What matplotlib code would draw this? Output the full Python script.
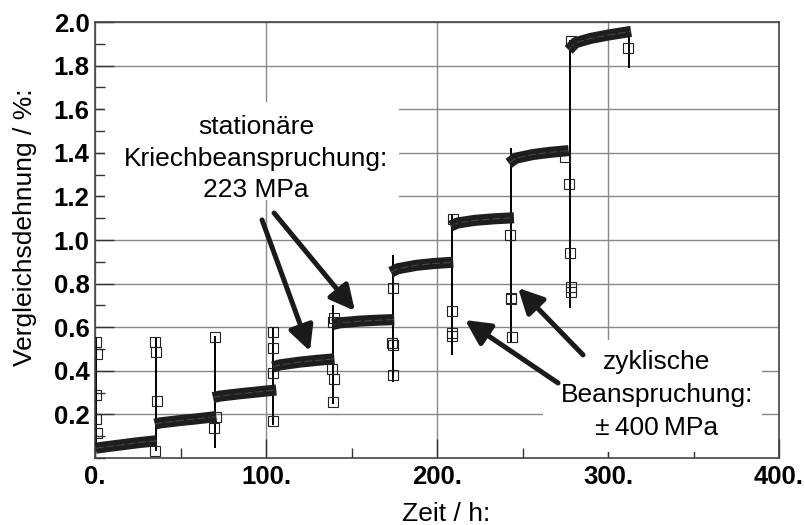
import numpy as np
import matplotlib.pyplot as plt
from matplotlib.patches import Rectangle
from matplotlib.ticker import FuncFormatter, MultipleLocator

plt.rcParams['font.family'] = ['Liberation Sans', 'DejaVu Sans']

# creep segments (stationaere Kriechbeanspruchung): Zeit / h, Dehnung / %
seg_t = [
    [0.5, 5, 15, 25, 36],
    [35, 38, 50, 60, 71],
    [69, 73, 85, 95, 106],
    [104, 108, 120, 130, 140],
    [139, 143, 155, 165, 175],
    [173, 177, 188, 198, 209.5],
    [208, 212, 222, 233, 245],
    [242, 246, 256, 266, 277],
    [277, 281, 290, 300, 313.5],
]
seg_s = [
    [0.045, 0.050, 0.060, 0.070, 0.079],
    [0.155, 0.161, 0.172, 0.180, 0.190],
    [0.277, 0.284, 0.295, 0.303, 0.312],
    [0.417, 0.427, 0.440, 0.448, 0.455],
    [0.612, 0.620, 0.628, 0.632, 0.635],
    [0.852, 0.868, 0.884, 0.892, 0.898],
    [1.064, 1.078, 1.090, 1.097, 1.102],
    [1.352, 1.375, 1.392, 1.402, 1.410],
    [1.872, 1.905, 1.925, 1.940, 1.957],
]

# cyclic phases (zyklische Beanspruchung): time and range of the trace
cyc_t = [0.7, 35.5, 70.2, 104.1, 139.4, 174.0, 208.5, 243.2, 277.8, 312.0]
cyc_lo = [0.03, 0.03, 0.046, 0.15, 0.25, 0.35, 0.473, 0.534, 0.687, 1.79]
cyc_hi = [0.55, 0.55, 0.56, 0.60, 0.70, 0.93, 1.115, 1.42, 1.918, 1.96]

# measured points (open squares)
pt_t = [0.6, 0.9, 0.4, 0.5, 1.4,
        35.3, 35.7, 36.0, 35.0,
        70.2, 70.7, 69.5,
        104.0, 104.3, 104.0, 104.2,
        139.8, 139.0, 138.4, 139.8, 139.0,
        174.5, 173.5, 174.0, 174.0,
        209.1, 208.5, 208.5, 208.8,
        242.7, 243.0, 243.2, 243.6,
        278.2, 275.0, 277.4, 277.8, 278.2, 278.4,
        311.9]
pt_s = [0.534, 0.476, 0.289, 0.179, 0.115,
        0.534, 0.488, 0.263, 0.034,
        0.557, 0.190, 0.136,
        0.580, 0.503, 0.389, 0.171,
        0.641, 0.625, 0.410, 0.363, 0.258,
        0.779, 0.529, 0.519, 0.381,
        1.095, 0.676, 0.572, 0.560,
        1.023, 0.736, 0.730, 0.557,
        1.915, 1.380, 1.257, 0.939, 0.786, 0.763,
        1.880]

fig = plt.figure(figsize=(8.05, 5.25), dpi=100)
ax = fig.add_axes([95 / 805, 67 / 525, 684 / 805, 436 / 525])
ax.set_axisbelow(True)

# white backgrounds of the two notes
ax.add_patch(Rectangle((5.8, 1.184), 172, 0.45, facecolor='white', edgecolor='none', zorder=1))
ax.add_patch(Rectangle((262, 0.028), 128, 0.514, facecolor='white', edgecolor='none', zorder=1))

ax.vlines(cyc_t, cyc_lo, cyc_hi, color='black', lw=1.4, zorder=2)
for t, s in zip(seg_t, seg_s):
    ax.plot(t, s, color='#1e1e1e', lw=8, solid_capstyle='butt', zorder=3)
    ax.plot(t, s, color='#4a4a4a', lw=0.7, ls=(0, (8, 3)), zorder=3.5)
ax.plot(pt_t, pt_s, ls='none', marker='s', ms=6.8, mfc='none', mec='#222222', mew=0.8, zorder=4)

ax.set_xlim(0, 400)
ax.set_ylim(0, 2.0)
ax.set_xticks([0, 100, 200, 300, 400])
ax.set_yticks(np.arange(0.2, 2.01, 0.2))
ax.xaxis.set_minor_locator(MultipleLocator(50))
ax.yaxis.set_minor_locator(MultipleLocator(0.1))
ax.xaxis.set_major_formatter(FuncFormatter(lambda v, p: f'{v:.0f}.'))
ax.yaxis.set_major_formatter(FuncFormatter(lambda v, p: f'{v:.1f}'))
ax.tick_params(which='major', direction='in', length=13.5, width=1, color='#333333',
               labelsize=18.5, pad=5)
ax.tick_params(which='minor', direction='in', length=7, width=1, color='#333333')
ax.tick_params(axis='y', pad=4)
for lab in ax.get_xticklabels() + ax.get_yticklabels():
    lab.set_fontweight('bold')
ax.grid(True, which='major', color='#888888', lw=1)
for sp in ax.spines.values():
    sp.set_color('#444444')
    sp.set_linewidth(1.2)

ax.set_xlabel('Zeit / h:', fontsize=19)
ax.set_ylabel('Vergleichsdehnung / %:', fontsize=19)
ax.xaxis.set_label_coords(0.513, -0.101)
ax.yaxis.set_label_coords(-0.0848, 0.529)

ax.text(0.2354, 0.6867, 'stationäre\nKriechbeanspruchung:\n223 MPa', transform=ax.transAxes,
        ha='center', va='center', multialignment='center', fontsize=19, linespacing=1.39, zorder=5)
ax.text(0.8216, 0.1445, 'zyklische\nBeanspruchung:\n\u00b1\u2009400\u2009MPa', transform=ax.transAxes,
        ha='center', va='center', multialignment='center', fontsize=19, linespacing=1.46, zorder=5)

# arrows
arrow_style = dict(arrowstyle='-|>,head_length=0.75,head_width=0.38', lw=3.6, color='#1a1a1a',
                   mutation_scale=20, shrinkA=0, shrinkB=0)
for tail, tip in [((97.7, 1.092), (125.7, 0.49)), ((104.7, 1.124), (152, 0.675)),
                  ((270.8, 0.344), (216.4, 0.633)), ((285.4, 0.473), (247.4, 0.78))]:
    ax.annotate('', xy=tip, xytext=tail, arrowprops=arrow_style, zorder=6)

fig.savefig('out.png', dpi=100)
